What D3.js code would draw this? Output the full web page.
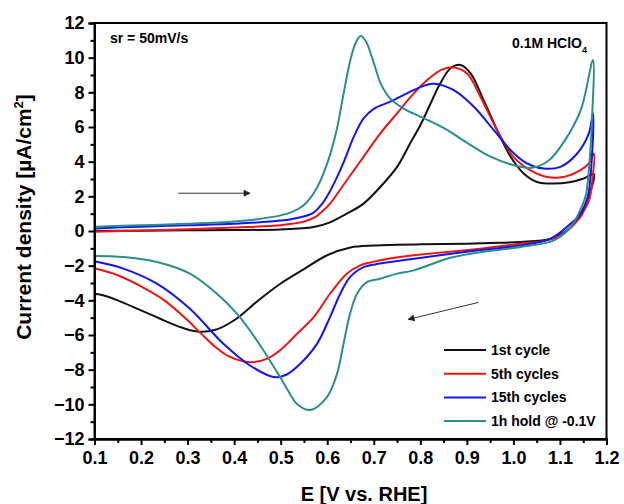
<!DOCTYPE html>
<html>
<head>
<meta charset="utf-8">
<script src="https://cdn.jsdelivr.net/npm/d3@7"></script>
<style>
  body { margin: 0; background: #fff; }
  text { font-family: "Liberation Sans", Arial, sans-serif; font-weight: bold; }
</style>
</head>
<body>
<svg id="chart" width="624" height="504"></svg>
<script>
// potential (V vs RHE) and current density (uA/cm2), anodic sweep then cathodic sweep
var black_E = [0.1,0.2,0.3,0.4,0.5,0.571,0.606,0.642,0.678,0.714,0.75,0.778,0.8,0.821,0.843,0.865,0.886,0.908,0.936,0.965,0.994,1.022,1.051,1.086,1.123,1.151,1.173,
               1.166,1.144,1.115,1.08,1.015,0.95,0.9,0.85,0.8,0.75,0.7,0.65,0.6,0.55,0.5,0.45,0.4,0.36,0.32,0.28,0.24,0.2,0.15,0.12,0.1];
var black_j = [0.0,0.02,0.04,0.06,0.09,0.23,0.5,1.0,1.58,2.54,3.7,5.05,6.1,7.3,8.52,9.39,9.58,9.1,7.55,5.82,4.28,3.32,2.83,2.74,2.83,3.03,3.28,
               2.35,1.0,0.04,-0.44,-0.63,-0.69,-0.73,-0.75,-0.77,-0.8,-0.84,-0.95,-1.4,-2.2,-3.03,-4.05,-5.15,-5.7,-5.8,-5.5,-5.05,-4.58,-4.0,-3.72,-3.62];

var red_E = [0.1,0.2,0.3,0.4,0.5,0.525,0.55,0.575,0.59,0.606,0.642,0.678,0.714,0.75,0.786,0.821,0.845,0.868,0.9,0.929,0.965,1.0,1.036,1.072,1.108,1.144,1.162,1.173,
             1.17,1.163,1.152,1.144,1.108,1.072,1.015,0.908,0.786,0.714,0.671,0.642,0.606,0.571,0.535,0.5,0.47,0.434,0.39,0.36,0.33,0.3,0.25,0.2,0.15,0.1];
var red_j = [-0.05,0.03,0.1,0.2,0.33,0.42,0.55,0.82,1.15,1.58,2.93,4.28,5.63,6.79,7.94,8.85,9.3,9.45,9.1,7.75,5.82,4.28,3.51,3.12,3.12,3.51,3.9,4.47,
             3.0,1.8,1.2,0.81,-0.15,-0.54,-0.73,-1.08,-1.4,-1.69,-1.98,-2.46,-3.62,-4.97,-5.93,-6.85,-7.38,-7.57,-7.25,-6.7,-5.95,-5.15,-4.0,-3.2,-2.55,-2.15];

var blue_E = [0.1,0.2,0.3,0.4,0.5,0.54,0.57,0.59,0.606,0.62,0.635,0.657,0.678,0.7,0.735,0.778,0.81,0.829,0.872,0.915,0.958,0.994,1.029,1.065,1.101,1.137,1.162,1.171,
              1.168,1.16,1.145,1.123,1.08,1.015,0.908,0.786,0.714,0.678,0.649,0.628,0.606,0.578,0.542,0.513,0.488,0.434,0.377,0.305,0.234,0.162,0.1];
var blue_j = [0.15,0.25,0.33,0.42,0.6,0.78,1.05,1.6,2.3,3.05,3.95,5.43,6.5,7.05,7.46,8.03,8.4,8.5,8.13,7.17,5.82,4.66,3.9,3.6,3.7,4.47,5.63,6.79,
              4.0,2.0,1.0,0.43,-0.44,-0.83,-1.17,-1.6,-1.88,-2.08,-2.66,-3.62,-4.97,-6.51,-7.66,-8.28,-8.44,-7.76,-6.51,-4.49,-3.04,-2.17,-1.75];

var teal_E = [0.1,0.2,0.3,0.4,0.45,0.5,0.525,0.55,0.575,0.6,0.62,0.635,0.65,0.662,0.672,0.683,0.7,0.715,0.735,0.765,0.8,0.85,0.9,0.95,1.0,1.04,1.075,1.11,1.145,1.171,
              1.168,1.162,1.155,1.14,1.123,1.087,1.015,0.908,0.857,0.786,0.75,0.714,0.685,0.664,0.649,0.635,0.621,0.599,0.563,0.535,0.52,0.499,0.449,0.406,0.363,0.305,0.234,0.162,0.1];
var teal_j = [0.25,0.33,0.42,0.55,0.68,0.9,1.1,1.5,2.35,3.9,5.8,7.9,9.9,10.9,11.25,10.95,9.7,8.5,7.65,7.05,6.6,5.95,5.1,4.3,3.8,3.65,4.05,5.2,7.0,9.87,
              6.0,3.5,2.0,1.0,0.23,-0.54,-0.92,-1.31,-1.6,-2.27,-2.46,-2.75,-2.95,-3.62,-4.77,-6.51,-8.24,-9.6,-10.33,-9.98,-9.4,-8.44,-6.32,-4.77,-3.62,-2.46,-1.79,-1.5,-1.44];

var series_names = ["1st cycle", "5th cycles", "15th cycles", "1h hold @ -0.1V"];
var series_colors = ["#111111", "#f01414", "#1414f0", "#2a8f8a"];
var x_ticks = [0.1,0.2,0.3,0.4,0.5,0.6,0.7,0.8,0.9,1.0,1.1,1.2];
var y_ticks = [-12,-10,-8,-6,-4,-2,0,2,4,6,8,10,12];

var curves = [[black_E, black_j], [red_E, red_j], [blue_E, blue_j], [teal_E, teal_j]];

var svg = d3.select("#chart");
var margin = {top: 23, left: 94.5, bottom: 65, right: 17.5};
var width = 624 - margin.left - margin.right;
var height = 504 - margin.top - margin.bottom;

var x = d3.scaleLinear().domain([0.1, 1.2]).range([margin.left, margin.left + width]);
var y = d3.scaleLinear().domain([-12, 12]).range([margin.top + height, margin.top]);

// curves
var line = d3.line()
    .x(d => x(d[0]))
    .y(d => y(d[1]))
    .curve(d3.curveCatmullRom.alpha(0.5));

svg.append("g").selectAll("path")
    .data(curves)
  .enter().append("path")
    .attr("d", c => line(c[0].map((e, i) => [e, c[1][i]])))
    .attr("fill", "none")
    .attr("stroke", (c, i) => series_colors[i])
    .attr("stroke-width", 2);

// frame
svg.append("rect")
    .attr("x", margin.left).attr("y", margin.top)
    .attr("width", width).attr("height", height)
    .attr("fill", "none").attr("stroke", "#000").attr("stroke-width", 2);

// axes
var xAxis = svg.append("g")
    .attr("transform", `translate(0,${margin.top + height})`)
    .call(d3.axisBottom(x).tickValues(x_ticks).tickFormat(d3.format(".1f")).tickSize(6).tickPadding(6));
var xMinor = svg.append("g")
    .attr("transform", `translate(0,${margin.top + height})`)
    .call(d3.axisBottom(x).tickValues(x_ticks.slice(0, -1).map(d => d + 0.05)).tickFormat("").tickSize(4));
var yAxis = svg.append("g")
    .attr("transform", `translate(${margin.left},0)`)
    .call(d3.axisLeft(y).tickValues(y_ticks).tickSize(6).tickPadding(4));
var yMinor = svg.append("g")
    .attr("transform", `translate(${margin.left},0)`)
    .call(d3.axisLeft(y).tickValues(y_ticks.slice(0, -1).map(d => d + 1)).tickFormat("").tickSize(4));

[xAxis, xMinor, yAxis, yMinor].forEach(function(a) {
    a.select(".domain").attr("stroke-width", 2);
    a.selectAll(".tick line").attr("stroke-width", 2);
});
[xAxis, yAxis].forEach(function(a) {
    a.selectAll("text").attr("font-size", "18px").attr("font-weight", "bold")
        .attr("font-family", "Liberation Sans, Arial, sans-serif").attr("fill", "#000");
});

// axis titles
svg.append("text")
    .attr("x", 364).attr("y", 501)
    .attr("text-anchor", "middle").attr("font-size", "20px")
    .text("E [V vs. RHE]");

var yt = svg.append("text")
    .attr("transform", "translate(31,217) rotate(-90)")
    .attr("text-anchor", "middle").attr("font-size", "21px");
yt.append("tspan").text("Current density [\u00b5A/cm");
yt.append("tspan").attr("dy", -8).attr("font-size", "13px").text("2");
yt.append("tspan").attr("dy", 8).text("]");

// annotations
svg.append("text")
    .attr("x", 110).attr("y", 43).attr("font-size", "14px")
    .text("sr = 50mV/s");
var hc = svg.append("text")
    .attr("x", 512).attr("y", 48).attr("font-size", "14px");
hc.append("tspan").text("0.1M HClO");
hc.append("tspan").attr("dy", 5).attr("font-size", "9px").text("4");

// sweep arrows
svg.append("defs").append("marker")
    .attr("id", "head").attr("viewBox", "0 0 10 10")
    .attr("refX", 9).attr("refY", 5)
    .attr("markerWidth", 9).attr("markerHeight", 7)
    .attr("markerUnits", "userSpaceOnUse").attr("orient", "auto")
  .append("path").attr("d", "M0,0 L10,5 L0,10 z").attr("fill", "#222");

var arrows = [[0.28, 2.18, 0.434, 2.18], [0.925, -4.12, 0.774, -5.1]];
svg.selectAll(".arrow")
    .data(arrows)
  .enter().append("line")
    .attr("class", "arrow")
    .attr("x1", d => x(d[0])).attr("y1", d => y(d[1]))
    .attr("x2", d => x(d[2])).attr("y2", d => y(d[3]))
    .attr("stroke", "#333").attr("stroke-width", 1)
    .attr("marker-end", "url(#head)");

// legend
var legend = svg.append("g").attr("transform", "translate(444,350)");
var rows = legend.selectAll("g")
    .data(series_names)
  .enter().append("g")
    .attr("transform", (d, i) => `translate(0,${i * 23.7})`);
rows.append("line")
    .attr("x1", 0).attr("x2", 42)
    .attr("stroke", (d, i) => series_colors[i]).attr("stroke-width", 2);
rows.append("text")
    .attr("x", 47).attr("y", 5).attr("font-size", "14px")
    .text(d => d);
</script>
</body>
</html>
